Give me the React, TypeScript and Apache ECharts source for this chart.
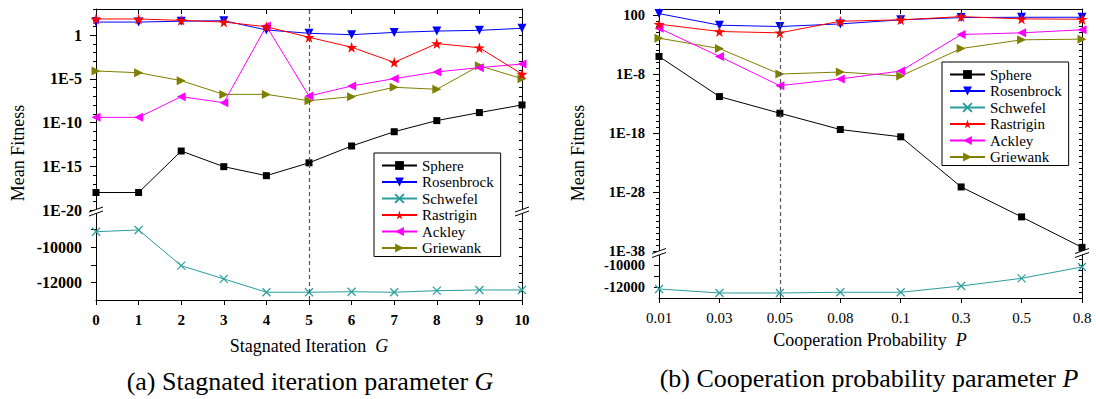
import React, { useEffect, useRef } from 'react';
import * as echarts from 'echarts';

const FONT = 'Liberation Serif';

// ---------- data ----------
const NAMES = ['Sphere', 'Rosenbrock', 'Schwefel', 'Rastrigin', 'Ackley', 'Griewank'];

const G_CATS = ['0', '1', '2', '3', '4', '5', '6', '7', '8', '9', '10'];
const P_CATS = ['0.01', '0.03', '0.05', '0.08', '0.1', '0.3', '0.5', '0.8'];

// Panel (a): stagnated iteration G
const sphereA = [1e-18, 1e-18, 5.6e-14, 9.1e-16, 8.5e-17, 2.5e-15, 2.1e-13, 9.1e-12, 1.7e-10, 1.4e-9, 1.05e-8];
const rosenbrockA = [32, 32, 40, 46, 4, 1.66, 1.15, 2.1, 3.0, 3.6, 6.2];
const rastriginA = [72, 72, 50, 32, 9.3, 0.58, 0.042, 7.9e-4, 0.11, 0.037, 3.6e-5];
const ackleyA = [4e-10, 4e-10, 9.3e-8, 1.9e-8, 11.2, 1.1e-7, 1.55e-6, 1.07e-5, 6.3e-5, 1.95e-4, 5.1e-4];
const griewankA = [8.1e-5, 5.1e-5, 6.3e-6, 1.7e-7, 1.7e-7, 3.2e-8, 9.3e-8, 1.1e-6, 6.5e-7, 3.2e-4, 1.07e-5];
const schwefelA = [-9120, -9020, -11050, -11800, -12560, -12560, -12530, -12560, -12470, -12430, -12430];

// Panel (b): cooperation probability P
const sphereB = [9.1e-6, 1.45e-12, 2.2e-15, 3.8e-18, 2.2e-19, 7.1e-28, 6e-33, 4.1e-38];
const rosenbrockB = [166, 1.8, 1.07, 3.0, 14.5, 35, 40, 40];
const rastriginB = [2.7, 0.155, 0.091, 8.5, 14.5, 51, 21, 18.6];
const ackleyB = [0.56, 9.1e-6, 1.02e-10, 1.4e-9, 3.1e-8, 0.048, 0.091, 0.3];
const griewankB = [0.0115, 2e-4, 9.5e-9, 2.1e-8, 4.4e-9, 2e-4, 6e-3, 7.8e-3];
const schwefelB = [-12180, -12545, -12545, -12480, -12480, -11910, -11210, -10180];

// axis tick values
const A_LOG_LABELS = [-20, -15, -10, -5, 0];
const B_LOG_LABELS = [-38, -28, -18, -8, 2];
const A_LIN_LABELS = [-12000, -10000];
const A_LIN_TICKS = [-12000, -11000, -10000, -9000];
const B_LIN_LABELS = [-12000, -10000];
const B_LIN_TICKS = [-12000, -11000, -10000];

// ---------- styles ----------
const STAR = 'path://M50,0L61,35L98,35L68,57L79,91L50,70L21,91L32,57L2,35L39,35Z';
const CROSS = 'path://M0,0L10,10M10,0L0,10';
const STYLE: Record<string, any> = {
  Sphere: { color: '#000000', symbol: 'rect', size: 7, rotate: 0 },
  Rosenbrock: { color: '#0000ff', symbol: 'triangle', size: 9, rotate: 180 },
  Schwefel: { color: '#2a9d9d', symbol: CROSS, size: 8, rotate: 0 },
  Rastrigin: { color: '#ff0000', symbol: STAR, size: 11, rotate: 0 },
  Ackley: { color: '#ff00ff', symbol: 'triangle', size: 9, rotate: 90 },
  Griewank: { color: '#808000', symbol: 'triangle', size: 9, rotate: -90 },
};

const lg = (arr: number[]) => arr.map((v) => Math.log10(v));

function series(name: string, data: number[], xi: number, yi: number, extra: any = {}) {
  const s = STYLE[name];
  return {
    type: 'line',
    name,
    data,
    xAxisIndex: xi,
    yAxisIndex: yi,
    symbol: s.symbol,
    symbolSize: s.size,
    symbolRotate: s.rotate,
    showAllSymbol: true,
    clip: false,
    lineStyle: { color: s.color, width: 1 },
    itemStyle: {
      color: s.color,
      borderColor: s.color,
      borderWidth: name === 'Schwefel' ? 1.2 : 0,
    },
    emphasis: { disabled: true },
    ...extra,
  };
}

function vline(cat: string) {
  return {
    silent: true,
    symbol: 'none',
    label: { show: false },
    lineStyle: { color: '#555', width: 1.2, type: [4, 3] },
    data: [{ xAxis: cat }],
  };
}

const AXLINE = { show: true, onZero: false, lineStyle: { color: '#000', width: 1 } };

function topX(grid: number, cats: string[]) {
  return {
    type: 'category', gridIndex: grid, position: 'top', data: cats, boundaryGap: false,
    axisLine: AXLINE, axisTick: { show: true, inside: true, length: 5, lineStyle: { color: '#000' } },
    axisLabel: { show: false }, splitLine: { show: false },
  };
}
function bottomX(grid: number, cats: string[], bold: boolean) {
  return {
    type: 'category', gridIndex: grid, position: 'bottom', data: cats, boundaryGap: false,
    axisLine: AXLINE, axisTick: { show: true, inside: false, length: 5, lineStyle: { color: '#000' } },
    axisLabel: {
      interval: 0, margin: 12, color: '#000', fontFamily: FONT, fontSize: 15,
      fontWeight: bold ? 'bold' : 'normal',
    },
    splitLine: { show: false },
  };
}
const logFmt = (v: number) => (v === 0 ? '1' : v === 2 ? '100' : '1E' + v);
const linFmt = (v: number) => String(v);

function yLabel(size: number) {
  return { color: '#000', fontFamily: FONT, fontSize: size, fontWeight: 'bold', margin: 14, lineHeight: 12 };
}

function logAxes(grid: number, min: number, max: number, labels: number[], size: number) {
  return [
    {
      type: 'value', gridIndex: grid, position: 'left', min, max, interval: 1,
      axisLine: AXLINE,
      axisTick: { show: true, length: 6, customValues: labels, lineStyle: { color: '#000' } },
      axisLabel: { ...yLabel(size), customValues: labels, formatter: logFmt },
      splitLine: { show: false },
    },
    {
      type: 'value', gridIndex: grid, position: 'left', min, max, interval: 1,
      axisLine: { show: false },
      axisTick: { show: true, length: 3, lineStyle: { color: '#000' } },
      axisLabel: { show: false }, splitLine: { show: false },
    },
    {
      type: 'value', gridIndex: grid, position: 'right', min, max, interval: 1,
      axisLine: AXLINE,
      axisTick: { show: true, inside: true, length: 3, lineStyle: { color: '#000' } },
      axisLabel: { show: false }, splitLine: { show: false },
    },
  ];
}
function linAxes(grid: number, min: number, max: number, ticks: number[], labels: number[], size: number) {
  return [
    {
      type: 'value', gridIndex: grid, position: 'left', min, max, interval: 1000,
      axisLine: AXLINE,
      axisTick: { show: true, length: 5, customValues: ticks, lineStyle: { color: '#000' } },
      axisLabel: { ...yLabel(size), customValues: labels, formatter: linFmt },
      splitLine: { show: false },
    },
    {
      type: 'value', gridIndex: grid, position: 'right', min, max, interval: 500,
      axisLine: AXLINE,
      axisTick: { show: true, inside: true, length: 3, lineStyle: { color: '#000' } },
      axisLabel: { show: false }, splitLine: { show: false },
    },
  ];
}

function breakMark(cx: number, cy: number) {
  const w = 7, r = 2.5, s = 2;
  const p = [
    [cx - w, cy - s + r], [cx + w, cy - s - r], [cx + w, cy + s - r], [cx - w, cy + s + r],
  ];
  return [
    { type: 'polygon', z: 100, shape: { points: p }, style: { fill: '#fff', stroke: 'none' } },
    { type: 'line', z: 101, shape: { x1: p[0][0], y1: p[0][1], x2: p[1][0], y2: p[1][1] }, style: { stroke: '#000', lineWidth: 1 } },
    { type: 'line', z: 101, shape: { x1: p[3][0], y1: p[3][1], x2: p[2][0], y2: p[2][1] }, style: { stroke: '#000', lineWidth: 1 } },
  ];
}

function text(x: number, y: number, str: string, size: number, rotation = 0) {
  return {
    type: 'text', x, y, rotation, z: 100,
    style: {
      text: str, fill: '#000', align: 'center', verticalAlign: 'middle',
      fontFamily: FONT, fontSize: size,
      rich: {
        n: { fontFamily: FONT, fontSize: size, fill: '#000' },
        i: { fontFamily: FONT, fontSize: size, fontStyle: 'italic', fill: '#000' },
      },
    },
  };
}

function legend(left: number, top: number) {
  return {
    data: NAMES, orient: 'vertical', left, top, selectedMode: false,
    itemWidth: 35, itemHeight: 11, itemGap: 1.5,
    padding: [5, 7, 1, 7],
    backgroundColor: '#fff', borderColor: '#000', borderWidth: 1,
    textStyle: { color: '#000', fontFamily: FONT, fontSize: 15 },
  };
}

function buildOption() {
  return {
    animation: false,
    backgroundColor: '#fff',
    textStyle: { fontFamily: FONT },
    grid: [
      { left: 96, top: 9, width: 426, height: 201 },
      { left: 96, top: 212, width: 426, height: 88 },
      { left: 659, top: 9, width: 423, height: 242 },
      { left: 659, top: 254, width: 423, height: 44 },
    ],
    xAxis: [topX(0, G_CATS), bottomX(1, G_CATS, true), topX(2, P_CATS), bottomX(3, P_CATS, false)],
    yAxis: [
      ...logAxes(0, -20, 3, A_LOG_LABELS, 16), // 0,1,2
      ...linAxes(1, -13000, -8000, A_LIN_TICKS, A_LIN_LABELS, 16), // 3,4
      ...logAxes(2, -38, 3, B_LOG_LABELS, 14.5), // 5,6,7
      ...linAxes(3, -13000, -9000, B_LIN_TICKS, B_LIN_LABELS, 14.5), // 8,9
    ],
    legend: [legend(374, 153), legend(942, 62)],
    series: [
      series('Griewank', lg(griewankA), 0, 0),
      series('Ackley', lg(ackleyA), 0, 0),
      series('Rosenbrock', lg(rosenbrockA), 0, 0),
      series('Rastrigin', lg(rastriginA), 0, 0),
      series('Sphere', lg(sphereA), 0, 0, { markLine: vline('5') }),
      series('Schwefel', schwefelA, 1, 3, { markLine: vline('5') }),
      series('Griewank', lg(griewankB), 2, 5),
      series('Ackley', lg(ackleyB), 2, 5),
      series('Rosenbrock', lg(rosenbrockB), 2, 5),
      series('Rastrigin', lg(rastriginB), 2, 5),
      series('Sphere', lg(sphereB), 2, 5, { markLine: vline('0.05') }),
      series('Schwefel', schwefelB, 3, 8, { markLine: vline('0.05') }),
    ],
    graphic: [
      ...breakMark(96, 211.5),
      ...breakMark(522, 211.5),
      ...breakMark(659, 253),
      ...breakMark(1082, 253),
      text(18, 153, 'Mean Fitness', 18, Math.PI / 2),
      text(578, 153, 'Mean Fitness', 18, Math.PI / 2),
      text(309, 346, '{n|Stagnated Iteration  }{i|G}', 18),
      text(870, 340, '{n|Cooperation Probability  }{i|P}', 18),
      text(310, 381, '{n|(a) Stagnated iteration parameter }{i|G}', 26),
      text(869, 378, '{n|(b) Cooperation probability parameter }{i|P}', 26),
    ],
  };
}

export default function App() {
  const ref = useRef<HTMLDivElement>(null);
  useEffect(() => {
    const chart = echarts.init(ref.current!, null, { renderer: 'svg' });
    chart.setOption(buildOption() as any);
    return () => chart.dispose();
  }, []);
  return (
    <div
      ref={ref}
      style={{ position: 'fixed', left: 0, top: 0, width: 1096, height: 399, background: '#fff' }}
    />
  );
}
